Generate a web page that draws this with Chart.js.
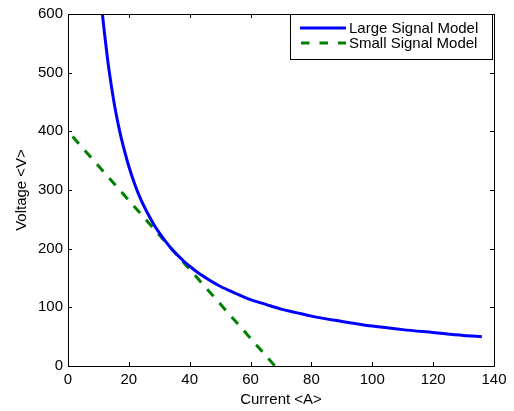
<!DOCTYPE html>
<html>
<head>
<meta charset="utf-8">
<script src="https://cdn.jsdelivr.net/npm/chart.js@4/dist/chart.umd.min.js"></script>
<style>
html,body{margin:0;padding:0;background:#fff;}
#wrap{width:514px;height:411px;}
</style>
</head>
<body>
<div id="wrap"><canvas id="c" width="514" height="411"></canvas></div>
<script>
const seriesNames = ["Large Signal Model", "Small Signal Model"];
const largeCurrent = [11.3, 12, 13, 14, 15, 16, 17, 18, 20, 22, 24, 26, 28, 30, 32, 34, 36, 38, 40, 43, 46, 50, 55, 60, 65, 70, 75, 80, 90, 100, 110, 120, 130, 136];
const largeVoltage = [600, 567, 523, 486, 453, 425, 400, 378, 340, 309, 283, 262, 243, 227, 213, 200, 189, 179, 170, 158, 148, 136, 124, 113, 105, 97, 91, 85, 76, 68, 62, 57, 52, 50];
const smallCurrent = [1.5, 68];
const smallVoltage = [391, 0];
const xTicks = [0, 20, 40, 60, 80, 100, 120, 140];
const yTicks = [0, 100, 200, 300, 400, 500, 600];
const xTitle = "Current <A>";
const yTitle = "Voltage <V>";

const FONT = "Arial, 'Liberation Sans', sans-serif";

const toPts = (xs, ys) => xs.map((x, i) => ({x: x, y: ys[i]}));

const framePlugin = {
  id: 'frame',
  afterDraw(chart) {
    const ctx = chart.ctx;
    const a = chart.chartArea;
    const xs = chart.scales.x, ys = chart.scales.y;
    ctx.save();
    ctx.strokeStyle = '#000';
    ctx.lineWidth = 1;
    ctx.strokeRect(Math.round(a.left) + 0.5, Math.round(a.top) + 0.5, Math.round(a.right - a.left), Math.round(a.bottom - a.top));
    const L = 4;
    ctx.beginPath();
    xTicks.forEach(v => {
      const px = Math.round(xs.getPixelForValue(v)) + 0.5;
      ctx.moveTo(px, a.bottom); ctx.lineTo(px, a.bottom - L);
      ctx.moveTo(px, a.top); ctx.lineTo(px, a.top + L);
    });
    yTicks.forEach(v => {
      const py = Math.round(ys.getPixelForValue(v)) + 0.5;
      ctx.moveTo(a.left, py); ctx.lineTo(a.left + L, py);
      ctx.moveTo(a.right, py); ctx.lineTo(a.right - L, py);
    });
    ctx.stroke();

    // legend box (top-right inside plot)
    const bx = 290.5, by = 14.5, bw = 202, bh = 45;
    ctx.fillStyle = '#fff';
    ctx.fillRect(bx, by, bw, bh);
    ctx.strokeRect(bx, by, bw, bh);
    ctx.font = "15px " + FONT;
    ctx.textBaseline = 'middle';
    chart.data.datasets.forEach((ds, i) => {
      const yy = 28 + i * 15;
      ctx.save();
      ctx.strokeStyle = ds.borderColor;
      ctx.lineWidth = ds.borderWidth;
      ctx.setLineDash(ds.borderDash ? [8.5, 10] : []);
      ctx.beginPath();
      ctx.moveTo(ds.borderDash ? 301 : 300, yy); ctx.lineTo(346, yy);
      ctx.stroke();
      ctx.restore();
      ctx.fillStyle = '#000';
      ctx.fillText(ds.label, 349, yy + 1);
    });
    ctx.restore();
  }
};

new Chart(document.getElementById('c'), {
  type: 'scatter',
  data: {
    datasets: [
      {
        label: seriesNames[0],
        data: toPts(largeCurrent, largeVoltage),
        showLine: true,
        borderColor: '#0000ff',
        backgroundColor: '#0000ff',
        borderWidth: 3,
        pointRadius: 0,
        cubicInterpolationMode: 'monotone',
        fill: false
      },
      {
        label: seriesNames[1],
        data: toPts(smallCurrent, smallVoltage),
        showLine: true,
        borderColor: '#008000',
        backgroundColor: '#008000',
        borderWidth: 3,
        borderDash: [9.5, 9],
        pointRadius: 0,
        fill: false
      }
    ]
  },
  options: {
    responsive: false,
    animation: false,
    layout: {padding: {left: 0, right: 20, top: 8, bottom: 0}},
    plugins: {legend: {display: false}, tooltip: {enabled: false}},
    scales: {
      x: {
        type: 'linear', min: 0, max: 140,
        afterBuildTicks: s => { s.ticks = xTicks.map(v => ({value: v})); },
        afterFit: s => { s.height = 45; },
        grid: {display: true, drawOnChartArea: false, drawTicks: false},
        border: {display: false},
        ticks: {color: '#000', font: {family: FONT, size: 15}, padding: 5, maxRotation: 0},
        title: {display: true, text: xTitle, color: '#000', font: {family: FONT, size: 15}, padding: {top: 2, bottom: 2}}
      },
      y: {
        type: 'linear', min: 0, max: 600,
        afterBuildTicks: s => { s.ticks = yTicks.map(v => ({value: v})); },
        afterFit: s => { s.width = 68; },
        grid: {display: true, drawOnChartArea: false, drawTicks: false},
        border: {display: false},
        ticks: {color: '#000', font: {family: FONT, size: 15}, padding: 5},
        title: {display: true, text: yTitle, color: '#000', font: {family: FONT, size: 15}, padding: {top: 13, bottom: 0}}
      }
    }
  },
  plugins: [framePlugin]
});
</script>
</body>
</html>
